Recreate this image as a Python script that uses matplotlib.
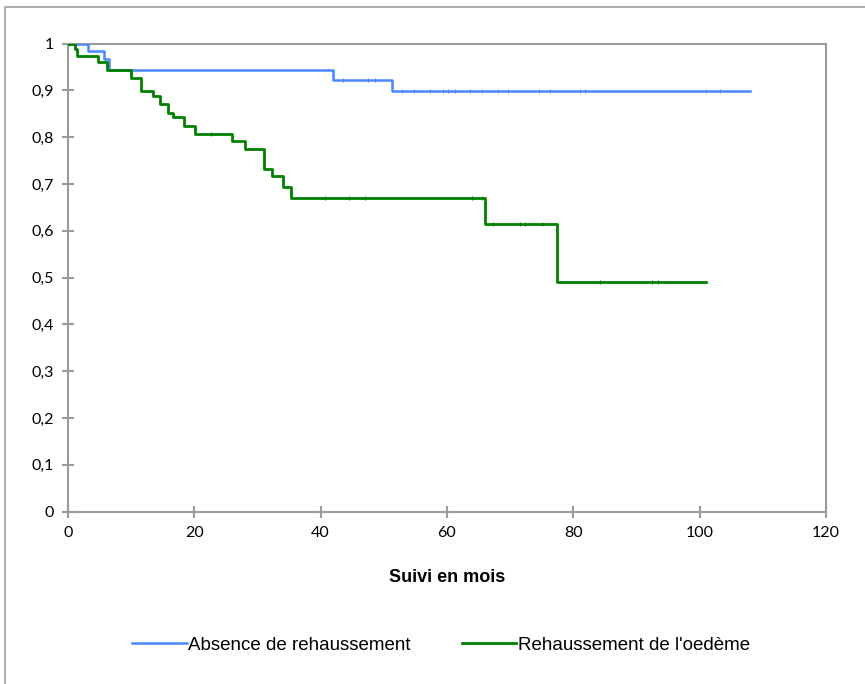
import matplotlib
matplotlib.use("Agg")
import matplotlib.pyplot as plt
from matplotlib.patches import Rectangle

# ---- data ----
blue_label = "Absence de rehaussement"
blue_t = [0, 3.2, 5.75, 6.5, 42.0, 51.3, 107.9]
blue_s = [1.0, 0.984, 0.966, 0.944, 0.922, 0.899, 0.899]
blue_cens_t = [43.6, 47.5, 48.6, 52.8, 54.7, 57.3, 59.4, 60.2, 61.3, 63.6, 65.5,
               68.1, 69.7, 74.5, 76.3, 81.0, 81.8, 101.0, 103.2]

green_label = "Rehaussement de l'oedème"
green_t = [0, 1.1, 1.5, 4.8, 6.1, 10.0, 11.6, 13.4, 14.6, 15.9, 16.7, 18.4, 20.1,
           26.0, 28.0, 31.0, 32.3, 34.0, 35.3, 66.0, 77.4, 101.0]
green_s = [1.0, 0.989, 0.973, 0.961, 0.944, 0.927, 0.898, 0.887, 0.870, 0.852, 0.842,
           0.824, 0.807, 0.791, 0.774, 0.733, 0.716, 0.693, 0.671, 0.615, 0.490, 0.490]
green_cens_t = [22.6, 40.7, 44.5, 47.0, 63.9, 65.5, 67.3, 71.6, 72.3, 75.0, 84.2, 92.4, 93.4]

x_ticks = [0, 20, 40, 60, 80, 100, 120]
y_ticks = [0, 0.1, 0.2, 0.3, 0.4, 0.5, 0.6, 0.7, 0.8, 0.9, 1.0]
y_tick_labels = ["0", "0,1", "0,2", "0,3", "0,4", "0,5", "0,6", "0,7", "0,8", "0,9", "1"]
x_label = "Suivi en mois"

BLUE = "#4A86FF"
GREEN = "#008000"
GRAY = "#9B9B9B"


def surv_at(ts, ss, t):
    val = ss[0]
    for ti, si in zip(ts, ss):
        if ti <= t:
            val = si
    return val


W, H = 865, 684
fig = plt.figure(figsize=(W / 100, H / 100), dpi=100)
ax = fig.add_axes([68 / W, 1 - 511.7 / H, (826 - 68) / W, (511.7 - 43.5) / H])

ax.step(blue_t, blue_s, where="post", color=BLUE, lw=1.8, label=blue_label, zorder=3)
ax.step(green_t, green_s, where="post", color=GREEN, lw=2.0, label=green_label, zorder=4)
ax.plot(blue_cens_t, [surv_at(blue_t, blue_s, t) for t in blue_cens_t], ls="none",
        marker="|", ms=2.5, mew=0.7, color=BLUE, zorder=3)
ax.plot(green_cens_t, [surv_at(green_t, green_s, t) for t in green_cens_t], ls="none",
        marker="|", ms=2.5, mew=0.7, color=GREEN, zorder=4)

ax.set_xlim(0, 120)
ax.set_ylim(0, 1)
ax.set_xticks(x_ticks)
ax.set_xticklabels([str(v) for v in x_ticks])
ax.set_yticks(y_ticks)
ax.set_yticklabels(y_tick_labels)
for s in ax.spines.values():
    s.set_color(GRAY)
    s.set_linewidth(1.5)
ax.tick_params(direction="inout", length=8, width=1.5, color=GRAY, labelsize=11.5,
               labelcolor="black")
ax.tick_params(axis="y", pad=6)
ax.tick_params(axis="x", pad=6)
for lbl in ax.get_xticklabels() + ax.get_yticklabels():
    lbl.set_fontfamily(["Lato", "DejaVu Sans"])

fig.text((68 + 826) / 2 / W, 1 - 577 / H, x_label, ha="center", va="center",
         fontsize=13, fontweight="bold", family=["Liberation Sans", "DejaVu Sans"])

leg = fig.legend(loc="center", bbox_to_anchor=(441 / W, 1 - 645 / H), ncol=2,
                 frameon=False, handlelength=2.9, handletextpad=0.1, columnspacing=2.7,
                 prop={"family": ["Liberation Sans", "DejaVu Sans"], "size": 13.5})

# outer chart frame
fig.patches.append(Rectangle((5 / W, -0.2), 1.2, 1 - 7.5 / H + 0.2,
                             transform=fig.transFigure, fill=False,
                             edgecolor="#A0A0A0", lw=1.2, clip_on=False))

fig.savefig("out.png", dpi=100)
